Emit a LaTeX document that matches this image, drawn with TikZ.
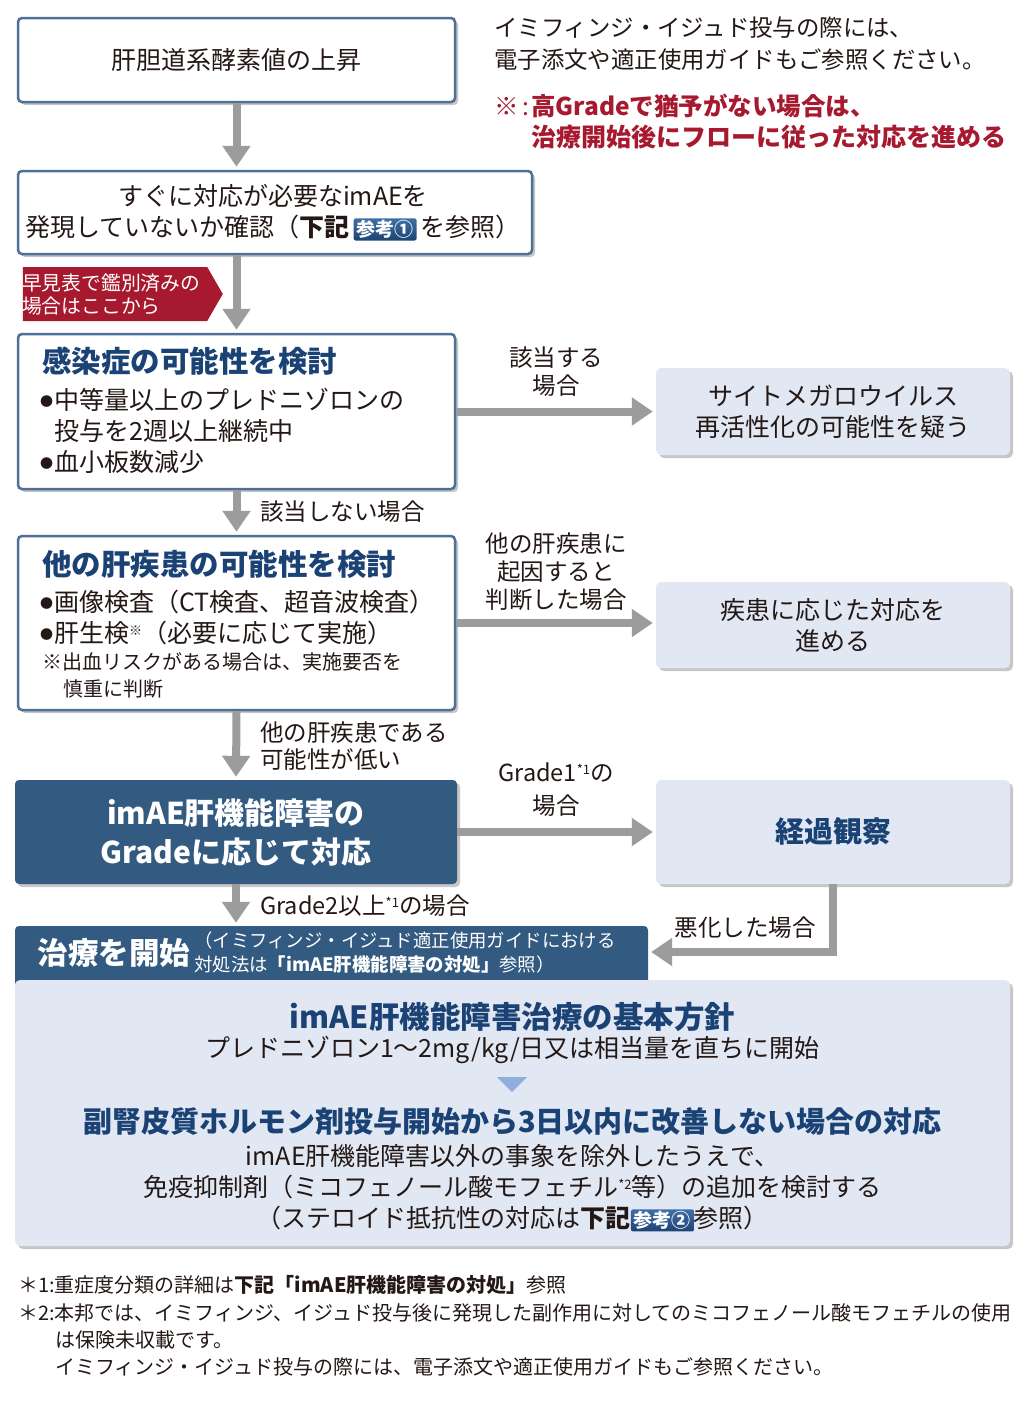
\documentclass[tikz,border=0pt]{standalone}
\usepackage{fontspec}
\setmainfont{Noto Sans CJK JP}
\usetikzlibrary{arrows.meta,shapes.symbols,shadows}
\definecolor{bord}{HTML}{4F6F94}
\definecolor{darkb}{HTML}{335A80}
\definecolor{tblue}{HTML}{1B4274}
\definecolor{lfill}{HTML}{E1E8F3}
\definecolor{garrow}{HTML}{9C9C9C}
\definecolor{lred}{HTML}{A6192E}
\definecolor{tri}{HTML}{8FB0DC}
\definecolor{txt}{HTML}{231815}
\definecolor{bdtop}{HTML}{3F6FA6}
\definecolor{bdbot}{HTML}{1D4372}
\newcommand{\fsz}[2]{\fontsize{#1}{#2}\selectfont}
\newcommand{\badge}[1]{\tikz[baseline=(bb.base)]\node[badgestyle](bb){#1};}
\newcommand{\supx}[1]{{\fsz{13}{13}\raisebox{7pt}{#1}}}
\newcommand{\bul}{{\fsz{13}{13}\raisebox{3pt}{●}}\hspace{1pt}}
\tikzset{
  wbox/.style={draw=bord, line width=2.5pt, fill=white, rounded corners=4pt, inner sep=0pt,
    drop shadow={shadow xshift=3pt, shadow yshift=-3pt, opacity=0.22, fill=black}},
  lbox/.style={fill=lfill, rounded corners=5pt, inner sep=0pt,
    drop shadow={shadow xshift=3pt, shadow yshift=-3pt, opacity=0.22, fill=black}},
  dbox/.style={fill=darkb, rounded corners=4pt, inner sep=0pt,
    drop shadow={shadow xshift=3pt, shadow yshift=-3pt, opacity=0.22, fill=black}},
  flow/.style={draw=garrow, line width=8pt, -{Triangle[width=27pt,length=21pt]}, shorten >=3pt},
  badgestyle/.style={rounded corners=2pt, top color=bdtop, bottom color=bdbot, text=white,
    inner xsep=3pt, inner ysep=2pt, font=\bfseries\fsz{19}{19}},
  tx/.style={text=txt, inner sep=0pt, font=\fsz{25}{31}},
  lab/.style={text=txt, inner sep=0pt, font=\fsz{23.5}{28}, align=center},
  ttl/.style={text=tblue, inner sep=0pt, font=\bfseries\fsz{29.5}{34}},
}
\begin{document}
\begin{tikzpicture}[x=1pt,y=-1pt]
\useasboundingbox (0,0) rectangle (1029,1401);
\fill[white] (0,0) rectangle (1029,1401);

% boxes
\node[wbox, minimum width=437pt, minimum height=84pt] (b1) at (236.5,60) {};
\node[wbox, minimum width=514pt, minimum height=83pt] (b2) at (275,212.5) {};
\node[wbox, minimum width=437pt, minimum height=155pt] (b3) at (236.5,411.5) {};
\node[wbox, minimum width=437pt, minimum height=174pt] (b4) at (236.5,623) {};
\node[dbox, minimum width=442pt, minimum height=104pt] (b5) at (236,832) {};
\node[lbox, minimum width=354pt, minimum height=87pt] (r1) at (833,411.5) {};
\node[lbox, minimum width=354pt, minimum height=86pt] (r2) at (833,625) {};
\node[lbox, minimum width=354pt, minimum height=104pt] (r3) at (833,832) {};
\node[fill=darkb, rounded corners=4pt, inner sep=0pt, minimum width=633pt, minimum height=60pt] (hd) at (331.5,956) {};
\node[lbox, minimum width=995pt, minimum height=266pt] (body) at (512.5,1113) {};

% red label
\node[signal, signal to=east, signal pointer angle=120, fill=lred, inner sep=0pt,
      minimum width=200pt, minimum height=54pt] (red) at (115,294) {};
\node[text=white, inner sep=0pt, font=\fsz{19.8}{23}, align=left, anchor=west] (redt) at (22,294.5) {早見表で鑑別済みの\\場合はここから};

% connectors
\draw[flow] (b1.south) -- (b1.south |- b2.north);
\draw[flow] (b3.north |- b2.south) -- (b3.north);
\draw[flow] (b3.east) -- (r1.west);
\draw[flow] (b3.south) -- (b4.north);
\draw[flow] (b4.east) -- (b4.east -| r2.west);
\draw[flow] (b4.south) -- (b5.north);
\draw[flow] (b5.east) -- (r3.west);
\draw[flow] (b5.south) -- (b5.south |- hd.north);
\coordinate (hdr) at (hd.east |- 0,952);
\draw[flow] (r3.south) |- (hdr);

% box texts
\node[tx] (t1) at (236.5,60) {肝胆道系酵素値の上昇};
\node[tx, align=center] (t2) at (273,212.5) {すぐに対応が必要なimAEを\\発現していないか確認（{\bfseries 下記}\,\badge{参考①}\,を参照）};

\node[ttl, anchor=west] (t3a) at (42,361) {感染症の可能性を検討};
\node[tx, anchor=west, align=left] (t3b) at (40,431) {\bul 中等量以上のプレドニゾロンの\\\phantom{\bul}投与を2週以上継続中\\\bul 血小板数減少};

\node[ttl, anchor=west] (t4a) at (42,564) {他の肝疾患の可能性を検討};
\node[tx, anchor=west, align=left] (t4b) at (40,617.5) {\bul 画像検査（CT検査、超音波検査）\\\bul 肝生検\supx{※}（必要に応じて実施）};
\node[text=txt, inner sep=0pt, font=\fsz{20}{27}, anchor=west, align=left] (t4c) at (42,675.5) {※出血リスクがある場合は、実施要否を\\\hspace*{21pt}慎重に判断};

\node[text=white, inner sep=0pt, font=\bfseries\fsz{30}{39}, align=center] (t5) at (236,832) {imAE肝機能障害の\\Gradeに応じて対応};

\node[tx, align=center] (tr1) at (833,411.5) {サイトメガロウイルス\\再活性化の可能性を疑う};
\node[tx, align=center] (tr2) at (833,625) {疾患に応じた対応を\\進める};
\node[ttl, font=\bfseries\fsz{29}{34}] (tr3) at (833,831) {経過観察};

% connector labels
\node[lab] (l1) at (556,372) {該当する\\場合};
\node[lab, anchor=west] (l2) at (260,512) {該当しない場合};
\node[lab] (l3) at (556,572) {他の肝疾患に\\起因すると\\判断した場合};
\node[lab, anchor=west, align=left, font=\fsz{23.5}{27}] (l4) at (260,746.5) {他の肝疾患である\\可能性が低い};
\node[lab, font=\fsz{23.5}{33}] (l5) at (556,789.5) {Grade1\supx{*1}の\\場合};
\node[lab, anchor=west] (l6) at (260,906) {Grade2以上\supx{*1}の場合};
\node[lab] (l7) at (745,928) {悪化した場合};

% header texts
\node[text=white, inner sep=0pt, font=\bfseries\fsz{30.5}{30}] (h1) at (114,953) {治療を開始};
\node[text=white, inner sep=0pt, font=\fsz{18.4}{24}, anchor=west, align=left] (h2) at (194,953) {（イミフィンジ・イジュド適正使用ガイドにおける\\対処法は{\bfseries 「imAE肝機能障害の対処」}参照）};

% body texts
\node[ttl, font=\bfseries\fsz{30.5}{32}] (bd1) at (512.5,1017) {imAE肝機能障害治療の基本方針};
\node[tx, font=\fsz{25}{30}] (bd2) at (512.5,1050) {プレドニゾロン1～2mg/kg/日又は相当量を直ちに開始};
\fill[tri] (497,1077) -- (527,1077) -- (512,1092) -- cycle;
\node[ttl, font=\bfseries\fsz{29}{30}] (bd3) at (512.5,1122) {副腎皮質ホルモン剤投与開始から3日以内に改善しない場合の対応};
\node[tx, align=center] (bd4) at (512.5,1188) {imAE肝機能障害以外の事象を除外したうえで、\\免疫抑制剤（ミコフェノール酸モフェチル\supx{*2}等）の追加を検討する\\（ステロイド抵抗性の対応は{\bfseries 下記}\badge{参考②}参照）};

% footnotes
\node[text=txt, inner sep=0pt, font=\fsz{20}{24}, anchor=west] (f1) at (18,1285) {＊1:重症度分類の詳細は{\bfseries 下記「imAE肝機能障害の対処」}参照};
\node[text=txt, inner sep=0pt, font=\fsz{20}{24}, anchor=west] (f2) at (18,1313) {＊2:本邦では、イミフィンジ、イジュド投与後に発現した副作用に対してのミコフェノール酸モフェチルの使用};
\node[text=txt, inner sep=0pt, font=\fsz{20}{24}, anchor=west] (f3) at (55,1340) {は保険未収載です。};
\node[text=txt, inner sep=0pt, font=\fsz{20}{24}, anchor=west] (f4) at (55,1367) {イミフィンジ・イジュド投与の際には、電子添文や適正使用ガイドもご参照ください。};

% top notes
\node[text=txt, inner sep=0pt, font=\fsz{23.4}{32}, anchor=west, align=left] (n1) at (494,44) {イミフィンジ・イジュド投与の際には、\\電子添文や適正使用ガイドもご参照ください。};
\node[text=lred, inner sep=0pt, font=\fsz{24.5}{31}, anchor=west] (n2) at (494,106) {\makebox[37pt][l]{※\hspace{4pt}:}{\bfseries 高Gradeで猶予がない場合は、}};
\node[text=lred, inner sep=0pt, font=\bfseries\fsz{25}{31}, anchor=west] (n3) at (531,137) {治療開始後にフローに従った対応を進める};
\end{tikzpicture}
\end{document}
